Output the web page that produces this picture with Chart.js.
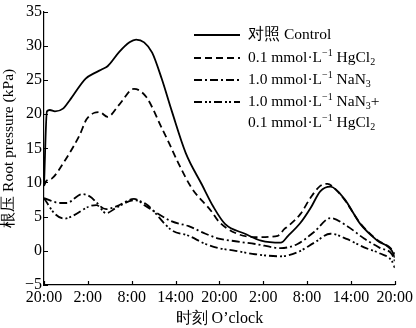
<!DOCTYPE html>
<html>
<head>
<meta charset="utf-8">
<script src="https://cdn.jsdelivr.net/npm/chart.js@4.4.0/dist/chart.umd.min.js"></script>
<style>
  html, body { margin: 0; padding: 0; background: #fff; }
  #wrap { width: 416px; height: 328px; position: relative; }
</style>
</head>
<body>
<div id="wrap"><canvas id="grafico"></canvas></div>
<script>
// Eixo x em horas a partir de 20:00
const rotulosX = ['20:00', '2:00', '8:00', '14:00', '20:00', '2:00', '8:00', '14:00', '20:00'];

// Controle
const horasControle = [0, 0.4, 0.8, 1.5, 2.6, 3.5, 5.7, 6.9, 8, 8.7, 10.3, 11.7, 12.6, 13.7, 14.8, 16.1, 17.5, 19.4, 21.6, 23.2, 24.8, 27.5, 29.7, 32.4, 33.4, 35.1, 36.5, 37.8, 39.2, 41.1, 43.3, 45.6, 47.6, 48];
const valoresControle = [9.5, 20.4, 20.6, 20.4, 20.8, 22, 25.2, 26, 26.6, 27, 29.1, 30.5, 30.9, 30.5, 29, 25.2, 20.4, 14.3, 9.7, 6.4, 3.9, 2.5, 1.5, 1.2, 2.2, 4.1, 6.3, 8.7, 9.4, 7.6, 3.9, 1.5, 0, -1];

// 0.1 mmol/L HgCl2
const horasHg = [0, 0.3, 1.1, 2.8, 4.9, 5.8, 6.9, 7.6, 8.7, 10.3, 12.3, 14, 16.1, 17.1, 18.4, 20.2, 22.9, 23.9, 26.2, 28.9, 32, 32.9, 33.4, 35.1, 36.5, 37.8, 38.8, 39.7, 41.1, 43.3, 45.6, 47.6, 48];
const valoresHg = [9.5, 10.2, 10.6, 13.1, 17, 19.2, 20.2, 20.3, 19.6, 21.4, 23.7, 22.5, 18, 15.8, 12.8, 9.2, 5.8, 4.3, 2.6, 2.0, 2.2, 3.2, 3.6, 5.4, 7.8, 9.5, 9.8, 9.2, 7.5, 4.0, 1.6, 0.2, -0.5];

// 1.0 mmol/L NaN3
const horasNa = [0, 2.2, 3.1, 5.2, 6.2, 8.5, 9.9, 12.3, 14, 17.5, 19.8, 22.1, 23.9, 26.2, 28.9, 32.4, 34.7, 37, 39.2, 41.5, 43.8, 46, 47.6, 48];
const valoresNa = [7.7, 7.0, 7.0, 8.3, 8.0, 6.1, 6.5, 7.6, 6.5, 4.3, 3.6, 2.5, 1.8, 1.4, 1.0, 0.4, 1.0, 2.8, 4.8, 3.6, 1.8, 0.4, -0.5, -1.5];

// 1.0 mmol/L NaN3 + 0.1 mmol/L HgCl2
const horasMix = [0, 1.5, 2.8, 3.9, 6.2, 7.2, 8.5, 9.9, 12.3, 14, 17.5, 19.8, 22.1, 23.9, 26.2, 28.9, 32.4, 34.7, 37, 39.2, 41.5, 43.8, 46, 47.6, 48];
const valoresMix = [7.7, 5.4, 4.7, 5.1, 6.5, 6.7, 5.5, 6.3, 7.4, 6.8, 3.0, 2.2, 1.0, 0.4, 0, -0.5, -0.8, -0.2, 1.2, 2.5, 1.7, 0.5, -0.4, -1.5, -2.5];

function pontos(horas, valores) {
    return horas.map((h, i) => ({ x: h, y: valores[i] }));
}

const fonte = '"Liberation Serif", "Times New Roman", serif';

// Legenda com sub/sobrescritos
const legenda = [
    { dash: [], partes: [['对照 Control', 0]] },
    { dash: [7, 4], partes: [['0.1 mmol·L', 0], ['−1', 1], [' HgCl', 0], ['2', -1]] },
    { dash: [8, 3, 2, 3], partes: [['1.0 mmol·L', 0], ['−1', 1], [' NaN', 0], ['3', -1]] },
    { dash: [8, 3, 2, 2, 2, 3], partes: [['1.0 mmol·L', 0], ['−1', 1], [' NaN', 0], ['3', -1], ['+', 0]] },
    { dash: null, partes: [['0.1 mmol·L', 0], ['−1', 1], [' HgCl', 0], ['2', -1]] }
];

function textoRico(ctx, partes, x, y) {
    partes.forEach(([t, pos]) => {
        ctx.font = (pos === 0 ? '15.5px ' : '10px ') + fonte;
        const dy = pos === 1 ? -5 : (pos === -1 ? 4 : 0);
        ctx.fillText(t, x, y + dy);
        x += ctx.measureText(t).width;
    });
}

const pluginExtras = {
    id: 'extras',
    afterDraw(chart) {
        const ctx = chart.ctx;
        const sx = chart.scales.x, sy = chart.scales.y;
        ctx.save();
        ctx.strokeStyle = '#000';
        ctx.lineWidth = 1.2;
        // marcas para dentro
        ctx.beginPath();
        for (let v = -5; v <= 35; v += 5) {
            const py = Math.round(sy.getPixelForValue(v)) + 0.5;
            ctx.moveTo(sx.left, py);
            ctx.lineTo(sx.left + 4, py);
        }
        for (let h = 0; h <= 48; h += 6) {
            const px = Math.round(sx.getPixelForValue(h)) + 0.5;
            ctx.moveTo(px, sy.bottom);
            ctx.lineTo(px, sy.bottom - 4);
        }
        ctx.stroke();

        // legenda
        ctx.fillStyle = '#000';
        ctx.textBaseline = 'middle';
        const linhasY = [35, 58, 80, 102, 123];
        legenda.forEach((item, i) => {
            const y = linhasY[i];
            if (item.dash) {
                ctx.beginPath();
                ctx.lineWidth = 2;
                ctx.setLineDash(item.dash);
                ctx.moveTo(194, y);
                ctx.lineTo(240, y);
                ctx.stroke();
                ctx.setLineDash([]);
            }
            textoRico(ctx, item.partes, 248, y);
        });
        ctx.restore();
    }
};

function serie(label, horas, valores, dash) {
    return {
        label: label,
        data: pontos(horas, valores),
        borderColor: '#000',
        borderWidth: 1.8,
        borderDash: dash,
        pointRadius: 0,
        fill: false,
        cubicInterpolationMode: 'monotone'
    };
}

const ctx = document.getElementById('grafico').getContext('2d');
new Chart(ctx, {
    type: 'line',
    data: {
        datasets: [
            serie('对照 Control', horasControle, valoresControle, []),
            serie('0.1 mmol·L−1 HgCl2', horasHg, valoresHg, [7, 4]),
            serie('1.0 mmol·L−1 NaN3', horasNa, valoresNa, [8, 3, 2, 3]),
            serie('1.0 mmol·L−1 NaN3+0.1 mmol·L−1 HgCl2', horasMix, valoresMix, [8, 3, 2, 2, 2, 3])
        ]
    },
    options: {
        responsive: true,
        maintainAspectRatio: false,
        animation: false,
        layout: { padding: { top: 10, right: 18, left: 0, bottom: 0 } },
        plugins: {
            legend: { display: false },
            tooltip: { enabled: false }
        },
        scales: {
            x: {
                type: 'linear',
                min: 0,
                max: 48,
                afterFit: (s) => { s.height = 43; },
                afterBuildTicks: (s) => { s.ticks = rotulosX.map((_, i) => ({ value: i * 6 })); },
                ticks: {
                    autoSkip: false,
                    maxRotation: 0,
                    padding: 3,
                    color: '#000',
                    font: { family: fonte, size: 16 },
                    callback: (v) => rotulosX[v / 6]
                },
                grid: { display: false, drawTicks: false },
                border: { display: true, color: '#000', width: 1.2 },
                title: {
                    display: true,
                    text: '时刻 O’clock',
                    color: '#000',
                    font: { family: fonte, size: 16 },
                    padding: { top: 0, bottom: 0 }
                }
            },
            y: {
                min: -5,
                max: 35,
                afterFit: (s) => { s.width = 44; },
                ticks: {
                    stepSize: 5,
                    padding: 2,
                    color: '#000',
                    font: { family: fonte, size: 16 },
                    callback: (v) => v < 0 ? '−' + Math.abs(v) : v
                },
                grid: { display: false, drawTicks: false },
                border: { display: true, color: '#000', width: 1.2 },
                title: {
                    display: true,
                    text: '根压 Root pressure (kPa)',
                    color: '#000',
                    font: { family: fonte, size: 15.5 },
                    padding: { top: 0, bottom: 0 }
                }
            }
        }
    },
    plugins: [pluginExtras]
});
</script>
</body>
</html>
